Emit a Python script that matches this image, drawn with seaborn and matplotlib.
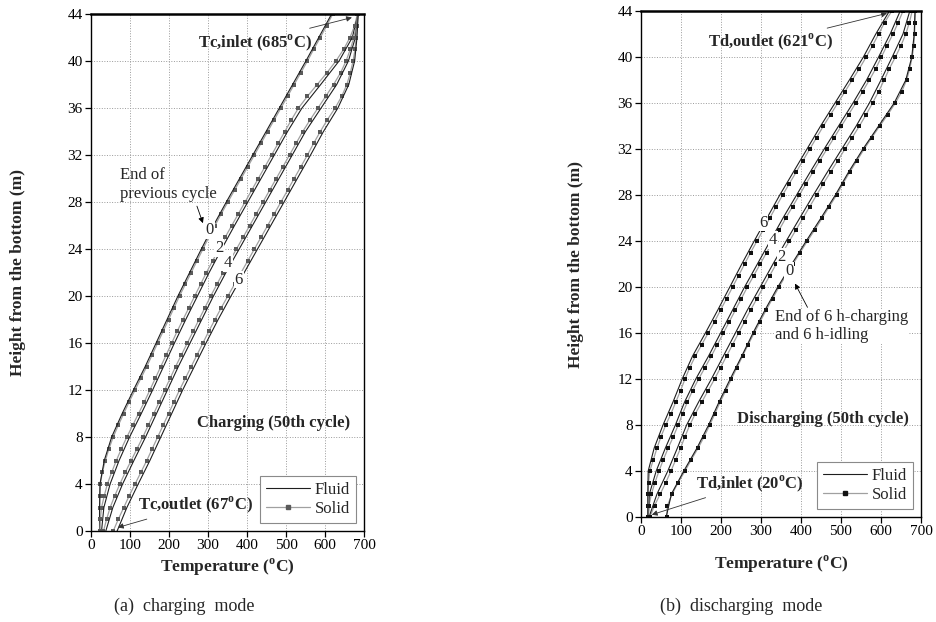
import matplotlib
matplotlib.use("Agg")
import matplotlib.pyplot as plt
from matplotlib.lines import Line2D
import seaborn as sns

# heights (m) where temperatures are read: solid every 1 m, fluid every 2 m
height_solid = list(range(0, 45))
height_fluid = list(range(0, 45, 2))
hours = ["0", "2", "4", "6"]

# ---- (a) charging, 50th cycle ----
chg_solid_0 = [22, 22, 22, 23, 24, 29, 37, 46, 57, 70, 84, 98, 113, 128, 143, 157, 171, 185, 199, 213, 227, 242, 257,
               272, 287, 302, 318, 334, 351, 368, 385, 402, 419, 436, 453, 470, 487, 504, 521, 538, 555, 571, 588, 604, 620]
chg_solid_2 = [23, 24, 27, 34, 42, 53, 65, 78, 92, 107, 122, 137, 151, 165, 179, 193, 207, 221, 236, 251, 266, 281, 296,
               312, 328, 344, 361, 378, 395, 412, 429, 446, 463, 480, 497, 514, 532, 555, 580, 605, 628, 648, 664, 676, 683]
chg_solid_4 = [32, 40, 49, 61, 74, 88, 103, 118, 133, 147, 161, 175, 189, 203, 217, 232, 247, 262, 277, 292, 307, 323, 339,
               356, 373, 390, 407, 424, 441, 458, 475, 492, 509, 526, 543, 562, 582, 602, 622, 640, 654, 665, 674, 680, 684]
chg_solid_6 = [57, 70, 84, 98, 113, 128, 143, 157, 171, 185, 199, 213, 227, 242, 257, 272, 287, 302, 318, 334, 351, 368, 385,
               402, 419, 436, 453, 470, 487, 504, 521, 538, 555, 571, 588, 606, 626, 643, 656, 665, 672, 677, 680, 683, 685]

chg_fluid_0 = [22, 22, 23, 34, 53, 80, 109, 139, 167, 195, 223, 253, 283, 314, 347, 381, 415, 449, 483, 517, 551, 584, 617]
chg_fluid_2 = [27, 33, 49, 72, 99, 129, 158, 186, 214, 243, 273, 303, 335, 368, 402, 436, 470, 504, 541, 589, 636, 670, 685]
chg_fluid_4 = [38, 56, 81, 110, 140, 168, 196, 224, 254, 284, 314, 346, 380, 414, 448, 482, 516, 550, 590, 630, 660, 678, 685]
chg_fluid_6 = [67, 92, 121, 151, 179, 207, 235, 265, 295, 326, 359, 393, 427, 461, 495, 529, 563, 596, 633, 661, 676, 682, 685]

# ---- (b) discharging, 50th cycle ----
dis_solid_0 = [64, 66, 78, 93, 110, 126, 143, 158, 172, 185, 198, 212, 226, 240, 254, 268, 283, 298, 313, 329, 345, 362, 380,
               398, 416, 435, 453, 471, 489, 505, 522, 540, 558, 577, 597, 617, 636, 652, 664, 672, 678, 682, 684, 685, 686]
dis_solid_2 = [22, 34, 48, 62, 75, 87, 99, 110, 122, 136, 152, 168, 184, 199, 214, 229, 244, 259, 274, 290, 306, 322, 338,
               354, 371, 388, 405, 422, 439, 456, 474, 492, 510, 528, 546, 563, 579, 594, 608, 621, 636, 650, 662, 671, 678]
dis_solid_4 = [19, 20, 26, 35, 45, 56, 68, 81, 93, 104, 116, 129, 144, 160, 176, 191, 206, 221, 236, 251, 266, 282, 298,
               314, 330, 346, 362, 379, 396, 413, 430, 447, 465, 483, 501, 519, 537, 554, 571, 587, 601, 615, 630, 643, 655]
dis_solid_6 = [18, 18, 18, 19, 22, 31, 40, 50, 62, 75, 87, 99, 110, 122, 136, 152, 168, 184, 199, 214, 229, 244, 259,
               274, 290, 306, 322, 338, 354, 371, 388, 405, 422, 439, 456, 474, 492, 510, 528, 546, 563, 579, 594, 609, 627]

dis_fluid_0 = [63, 76, 107, 140, 169, 195, 223, 252, 280, 310, 342, 377, 413, 450, 486, 519, 555, 594, 633, 662, 677, 683, 685]
dis_fluid_2 = [20, 40, 67, 91, 114, 144, 176, 206, 236, 266, 298, 330, 363, 397, 431, 466, 502, 538, 571, 600, 628, 655, 672]
dis_fluid_4 = [18, 21, 38, 61, 86, 109, 137, 169, 199, 229, 259, 291, 323, 355, 389, 423, 458, 494, 530, 564, 594, 623, 648]
dis_fluid_6 = [17, 17, 18, 33, 55, 80, 103, 129, 161, 192, 222, 252, 283, 315, 347, 381, 415, 449, 485, 521, 556, 587, 621]

sns.set_theme(style="ticks")
plt.rcParams["font.family"] = ["Liberation Serif", "DejaVu Serif"]
plt.rcParams["mathtext.fontset"] = "custom"
plt.rcParams["mathtext.rm"] = "Liberation Serif"
plt.rcParams["mathtext.bf"] = "Liberation Serif:bold"

FLUID_C = "#1e1e1e"
SOLID_C = "#a0a0a0"


def draw_profiles(ax, fluid_sets, solid_sets, mk):
    for tf, ts in zip(fluid_sets, solid_sets):
        sns.lineplot(x=ts, y=height_solid, ax=ax, sort=False, estimator=None, color=SOLID_C, lw=0.9,
                     marker="s", markersize=3.2, markeredgewidth=0, markerfacecolor=mk)
        sns.lineplot(x=tf, y=height_fluid, ax=ax, sort=False, estimator=None, color=FLUID_C, lw=0.8)


def style_axes(ax, mk, xlab_pad, ylab_pad):
    ax.set_xlim(0, 700)
    ax.set_ylim(0, 44)
    ax.set_xticks(range(0, 701, 100))
    ax.set_yticks(range(0, 45, 4))
    ax.grid(True, ls=":", lw=0.7, color="#9a9a9a")
    ax.tick_params(direction="out", length=4, width=0.9, labelsize=11, pad=2, colors="black")
    for s in ax.spines.values():
        s.set_visible(True)
        s.set_color("black")
        s.set_linewidth(1.0)
    ax.spines["top"].set_linewidth(1.8)
    ax.set_xlabel(r"Temperature ($^{\mathbf{o}}$C)", fontsize=12.5, fontweight="bold", labelpad=xlab_pad)
    ax.set_ylabel("Height from the bottom (m)", fontsize=12.5, fontweight="bold", labelpad=ylab_pad)
    handles = [Line2D([], [], color=FLUID_C, lw=0.8),
               Line2D([], [], color=SOLID_C, lw=0.9, marker="s", ms=3.2, mfc=mk, mec=mk)]
    leg = ax.legend(handles, ["Fluid", "Solid"], loc="lower right", fontsize=12, frameon=True,
                    fancybox=False, framealpha=1, edgecolor="#8a8a8a", handlelength=2.6,
                    handletextpad=0.3, labelspacing=0.2, borderaxespad=0.5, borderpad=0.35)
    leg.get_frame().set_linewidth(0.8)


arrow = dict(arrowstyle="-|>", color="#333333", lw=0.6, mutation_scale=8, shrinkA=1, shrinkB=0)
label_box = dict(fc="white", ec="none", pad=0.6)

fig = plt.figure(figsize=(9.36, 6.22), dpi=100)
ax1 = fig.add_axes([91 / 936, 1 - 531 / 622, 273 / 936, 517 / 622])
ax2 = fig.add_axes([641 / 936, 1 - 517 / 622, 280 / 936, 506 / 622])

# (a) charging
draw_profiles(ax1, [chg_fluid_0, chg_fluid_2, chg_fluid_4, chg_fluid_6],
              [chg_solid_0, chg_solid_2, chg_solid_4, chg_solid_6], "#5a5a5a")
style_axes(ax1, "#5a5a5a", 3, 30)
for lab, (tx, ty) in zip(hours, [(305, 25.6), (328, 24.1), (351, 22.8), (379, 21.4)]):
    ax1.text(tx, ty, lab, fontsize=12, ha="center", va="center", bbox=label_box, zorder=5)
ax1.annotate(r"Tc,inlet (685$^{\mathbf{o}}$C)", xy=(669, 43.7), xytext=(420, 41.6), fontsize=12,
             fontweight="bold", ha="center", va="center", arrowprops=arrow)
ax1.annotate(r"Tc,outlet (67$^{\mathbf{o}}$C)", xy=(69, 0.3), xytext=(267, 2.2), fontsize=12,
             fontweight="bold", ha="center", va="center", arrowprops=arrow, zorder=6)
ax1.annotate("End of\nprevious cycle", xy=(287, 26.2), xytext=(74, 29.5), fontsize=12,
             ha="left", va="center", linespacing=1.2,
             arrowprops=dict(arrow, color="black", relpos=(0.78, 0.0)), zorder=6)
ax1.text(469, 9.2, "Charging (50th cycle)", fontsize=12, fontweight="bold", ha="center", va="center", zorder=5)

# (b) discharging
draw_profiles(ax2, [dis_fluid_0, dis_fluid_2, dis_fluid_4, dis_fluid_6],
              [dis_solid_0, dis_solid_2, dis_solid_4, dis_solid_6], "#111111")
style_axes(ax2, "#111111", 11, 24)
for lab, (tx, ty) in zip(hours, [(370, 21.4), (352, 22.6), (330, 24.1), (305, 25.6)]):
    ax2.text(tx, ty, lab, fontsize=12, ha="center", va="center", bbox=label_box, zorder=5)
ax2.annotate(r"Td,outlet (621$^{\mathbf{o}}$C)", xy=(615, 43.8), xytext=(325, 41.3), fontsize=12,
             fontweight="bold", ha="center", va="center", arrowprops=arrow)
ax2.annotate(r"Td,inlet (20$^{\mathbf{o}}$C)", xy=(27, 0.2), xytext=(272, 2.9), fontsize=12,
             fontweight="bold", ha="center", va="center", arrowprops=arrow, zorder=6)
ax2.annotate("End of 6 h-charging\nand 6 h-idling", xy=(385, 20.3), xytext=(335, 16.6), fontsize=12,
             ha="left", va="center", linespacing=1.2,
             arrowprops=dict(arrow, color="black", relpos=(0.25, 1.0)), zorder=6,
             bbox=dict(fc="white", ec="none", pad=0.3))
ax2.text(455, 8.5, "Discharging (50th cycle)", fontsize=12, fontweight="bold", ha="center", va="center", zorder=5)

fig.text(184 / 936, 1 - 606 / 622, "(a)  charging  mode", fontsize=13, ha="center", va="center")
fig.text(741 / 936, 1 - 606 / 622, "(b)  discharging  mode", fontsize=13, ha="center", va="center")

fig.savefig("out.png", dpi=100)
